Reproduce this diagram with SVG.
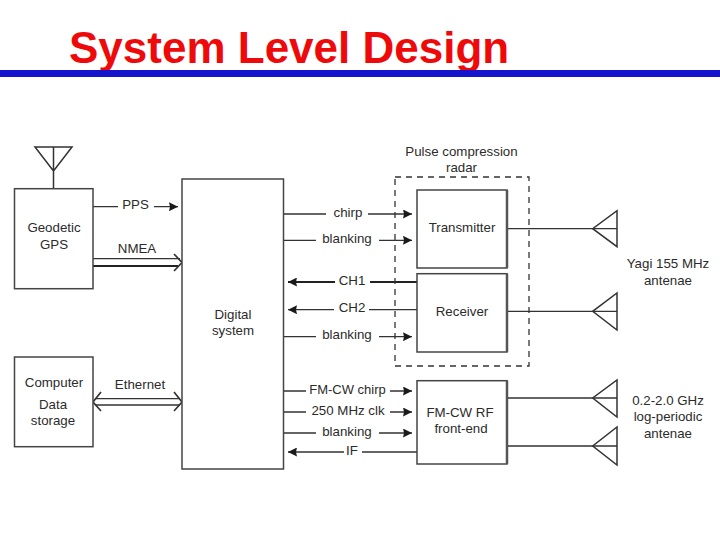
<svg xmlns="http://www.w3.org/2000/svg" width="720" height="540" viewBox="0 0 720 540">
<style>
text{font-family:"Liberation Sans",Arial,sans-serif;font-size:13.3px;fill:#2b2b2b;text-anchor:middle}
#title text{font-size:44px;font-weight:bold;fill:#ee0a0a;text-anchor:start}
.b{fill:#fff;stroke:#444;stroke-width:1.5}
.l{fill:none;stroke:#333;stroke-width:1.3}
.k{fill:none;stroke:#333;stroke-width:1.5}
.h{fill:none;stroke:#333;stroke-width:1.7}
</style>
<defs>
<marker id="a" markerUnits="userSpaceOnUse" markerWidth="9" markerHeight="9" refX="9" refY="4.500" orient="auto"><path d="M0 0L9 4.500L0 9L1 4.500Z" fill="#1a1a1a"/></marker>
</defs>
<rect width="720" height="540" fill="#fff"/>
<g id="title"><text x="69" y="62.500">System Level Design</text><rect x="0" y="70" width="720" height="7" fill="#1414cc"/></g>
<g id="connectors">
<path class="l" d="M93 206.700H118M154 206.700H178" marker-end="url(#a)"/>
<path class="l" d="M93 258.700H180"/><path d="M93 266H178" fill="none" stroke="#222" stroke-width="2"/>
<path class="h" d="M174 254L182 262.500L174 271"/>
<path class="l" d="M95 398.700H180M95 405H180"/>
<path class="h" d="M101 392L93 402L101 411M174 392L182 402L174 411"/>
<path class="l" d="M283.500 214H326M368 214H412" marker-end="url(#a)"/>
<path class="l" d="M283.500 240.300H316M379 240.300H412" marker-end="url(#a)"/>
<path d="M417 282H370M335 282H288" fill="none" stroke="#222" stroke-width="2.200" marker-end="url(#a)"/>
<path class="l" d="M417 309.700H369M334 309.700H288" marker-end="url(#a)"/>
<path class="l" d="M283.500 336.700H316M379 336.700H412" marker-end="url(#a)"/>
<path class="l" d="M283.500 391H306M390 391H412" marker-end="url(#a)"/>
<path class="l" d="M283.500 412H306M390 412H412" marker-end="url(#a)"/>
<path class="l" d="M283.500 433H316M379 433H412" marker-end="url(#a)"/>
<path class="l" d="M417 452H362M344 452H288" marker-end="url(#a)"/>
<path class="l" d="M507 228.700H617M507 311.300H617M507 398H617M507 446H617"/>
</g>
<g id="radar-frame"><rect x="395" y="177" width="134" height="189" fill="none" stroke="#333" stroke-width="1.300" stroke-dasharray="6 5"/><text x="461.500" y="156">Pulse compression</text><text x="461.500" y="172">radar</text></g>
<g id="gps-antenna"><path class="k" d="M35 147H72L53.500 171ZM53.500 147V188"/></g>
<g id="gps"><rect class="b" x="14.500" y="188.700" width="78.500" height="100"/><text x="54" y="232">Geodetic</text><text x="54" y="249">GPS</text></g>
<g id="computer"><rect class="b" x="14.500" y="357" width="78.500" height="89.700"/><text x="54" y="387">Computer</text><text x="53" y="409">Data</text><text x="53" y="425">storage</text></g>
<g id="digital"><rect class="b" x="182" y="179" width="101.500" height="290"/><text x="233" y="319">Digital</text><text x="233" y="335">system</text></g>
<g id="transmitter"><rect class="b" x="417" y="190" width="90" height="78"/><path d="M507 190V268" stroke="#555" stroke-width="2.500"/><text x="462" y="232">Transmitter</text></g>
<g id="receiver"><rect class="b" x="417" y="273.700" width="90" height="78.300"/><path d="M507 273.700V352" stroke="#555" stroke-width="2.500"/><text x="462" y="316">Receiver</text></g>
<g id="fmcw"><rect class="b" x="417" y="380.700" width="90" height="83.300"/><path d="M507 380.700V464" stroke="#555" stroke-width="2.500"/><text x="460" y="417" font-weight="500">FM-CW RF</text><text x="461" y="433">front-end</text></g>
<g id="ant1"><path class="k" d="M617 210.700V246.700L592.700 228.700Z"/></g>
<g id="ant2"><path class="k" d="M617 293V330L592.700 311.300Z"/></g>
<g id="ant3"><path class="k" d="M617 380V417L592.700 398Z"/></g>
<g id="ant4"><path class="k" d="M617 427V465L592.700 446Z"/></g>
<g id="labels">
<text x="135.500" y="208.500">PPS</text><text x="137" y="253">NMEA</text><text x="140" y="389">Ethernet</text>
<text x="348" y="217">chirp</text><text x="347" y="243">blanking</text><text x="352" y="285">CH1</text><text x="352" y="312">CH2</text><text x="347" y="339">blanking</text>
<text x="347.500" y="394" style="font-size:13px">FM-CW chirp</text><text x="348" y="415">250 MHz clk</text><text x="347" y="436">blanking</text><text x="352" y="455">IF</text>
<text x="668" y="268">Yagi 155 MHz</text><text x="668" y="285">antenae</text>
<text x="668" y="405">0.2-2.0 GHz</text><text x="668" y="421">log-periodic</text><text x="668" y="438">antenae</text>
</g>
</svg>
